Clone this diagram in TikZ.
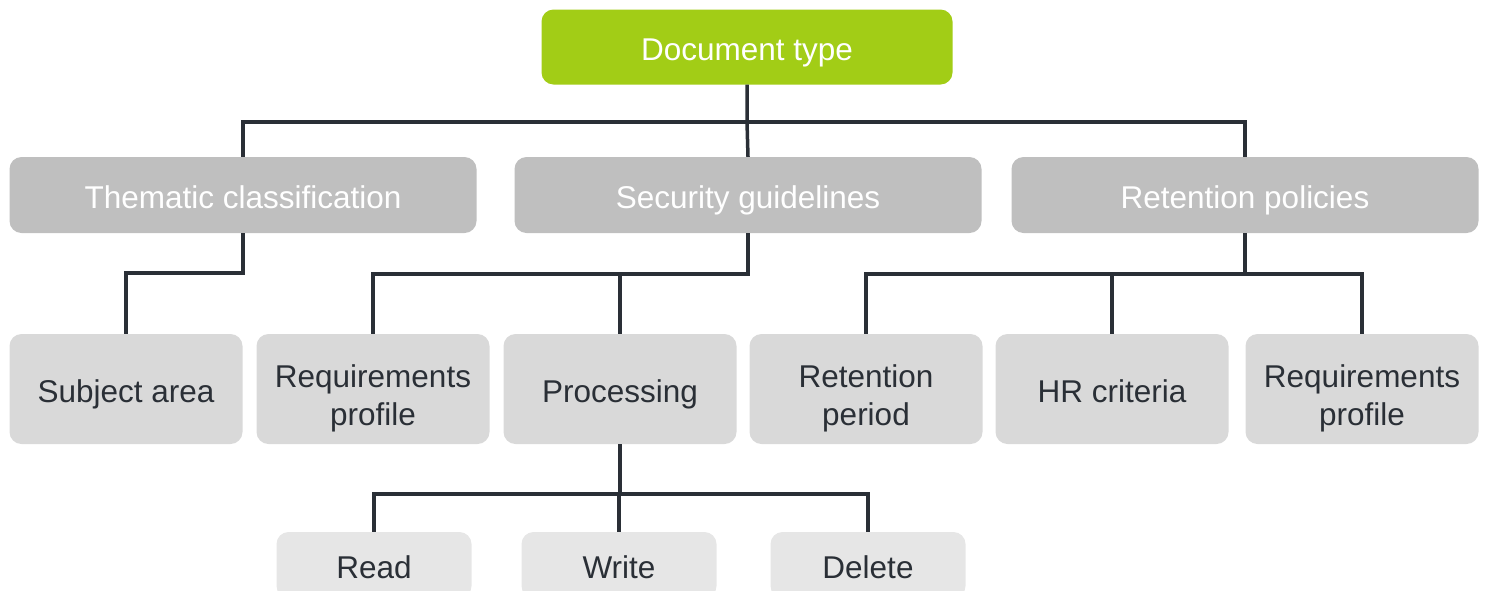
\documentclass[tikz,border=0pt]{standalone}
\usepackage{fontspec}
\setmainfont{Liberation Sans}
\usepackage{xcolor}
\usepackage{tikz}
\definecolor{dtgreen}{HTML}{A2CD16}
\definecolor{dtgrey}{HTML}{BFBFBF}
\definecolor{dtlight}{HTML}{D9D9D9}
\definecolor{dtpale}{HTML}{E6E6E6}
\definecolor{dtline}{HTML}{2A2F36}
\tikzset{dtbox/.style = {rounded corners=12pt, inner sep=0pt, align=center,
  text height=26pt, text depth=0pt, font=\fontsize{31.5}{38}\selectfont}}
\tikzset{dtlink/.style = {draw=dtline, line width=3.5pt}}

\begin{document}
\begin{tikzpicture}[x=1pt,y=-1pt,
  top/.style={dtbox, fill=dtgreen, text=white, minimum width=411pt, minimum height=75pt},
  cat/.style={dtbox, fill=dtgrey, text=white, minimum width=467pt, minimum height=76pt},
  sub/.style={dtbox, fill=dtlight, text=dtline, minimum width=233pt, minimum height=110pt},
  act/.style={dtbox, fill=dtpale, text=dtline, minimum width=195pt, minimum height=66pt},
  two/.style={text height=72pt}]
  \useasboundingbox (0,0) rectangle (1486,590);
  \clip (0,0) rectangle (1486,590);
  \node[top] (root) at (747,47) {Document type};
  \node[cat] (thema) at (243,195) {Thematic classification};
  \node[cat] (secur) at (748,195) {Security guidelines};
  \node[cat] (reten) at (1245,195) {Retention policies};
  \node[sub] (subj) at (126,389) {Subject area};
  \node[sub,two] (req1) at (373,389) {Requirements\\profile};
  \node[sub] (proc) at (620,389) {Processing};
  \node[sub,two] (rper) at (866,389) {Retention\\period};
  \node[sub] (hr) at (1112,389) {HR criteria};
  \node[sub,two] (req2) at (1362,389) {Requirements\\profile};
  \node[act] (read) at (374,565) {Read};
  \node[act] (write) at (619,565) {Write};
  \node[act] (del) at (868,565) {Delete};
  \coordinate (b1) at (747,122);
  \coordinate (b2) at (243,273);
  \coordinate (b3) at (748,274);
  \coordinate (b4) at (1245,274);
  \coordinate (b5) at (620,494);
  \path[dtlink] (root.south) -- (b1) -- (secur.north);
  \path[dtlink] (thema.north) |- (b1) -| (reten.north);
  \path[dtlink] (thema.south) -- (b2) -| (subj.north);
  \path[dtlink] (secur.south) -- (b3) -| (req1.north) (b3) -| (proc.north);
  \path[dtlink] (reten.south) -- (b4) -| (rper.north) (b4) -| (hr.north) (b4) -| (req2.north);
  \path[dtlink] (proc.south) -- (b5) -| (read.north) (b5) -| (write.north) (b5) -| (del.north);
\end{tikzpicture}
\end{document}
